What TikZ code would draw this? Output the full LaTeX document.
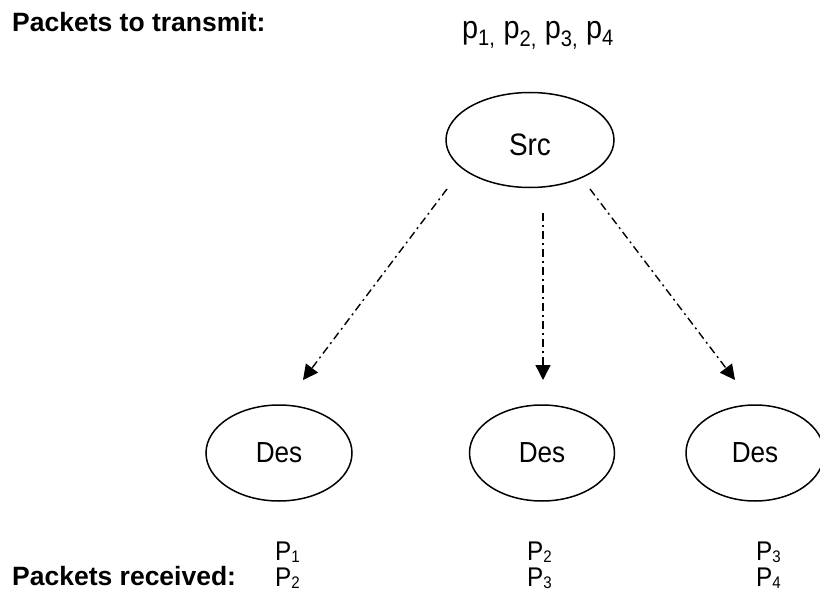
\documentclass[tikz,border=0pt]{standalone}
\usepackage{fontspec}
\setmainfont{Liberation Sans}
\newfontfamily\nsans{Liberation Sans}[FakeStretch=0.9]
\usetikzlibrary{shapes.geometric,arrows.meta}
\newcommand{\subx}[1]{\raisebox{-0.08em}{\scalebox{0.62}{#1}}}
\begin{document}
\begin{tikzpicture}[x=1pt,y=-1pt,
  oval/.style={draw, ellipse, line width=1.5pt, inner sep=0pt, font=\nsans\fontsize{29}{34}\selectfont},
  flow/.style={line width=1.4pt, dash pattern=on 8pt off 4pt on 2pt off 4pt, -{Triangle[length=15pt,width=15pt]}},
  lbl/.style={inner sep=0pt, anchor=base west, font=\nsans\fontsize{27}{32}\selectfont},
  lblb/.style={inner sep=0pt, anchor=base west, font=\bfseries\fontsize{26.5}{31}\selectfont}]
\useasboundingbox (0,0) rectangle (820,594);
\node[oval, minimum width=168pt, minimum height=95pt, font=\nsans\fontsize{31}{36}\selectfont, text height=30pt, text depth=0pt] (src) at (530,140) {Src};
\node[oval, minimum width=146pt, minimum height=96pt] (d1) at (279,453) {Des};
\node[oval, minimum width=145pt, minimum height=96pt] (d2) at (542,453) {Des};
\node[oval, minimum width=138pt, minimum height=96pt] (d3) at (755,453) {Des};
\coordinate (s1) at (447,189); \coordinate (e1) at (303,380);
\coordinate (s2) at (543,213); \coordinate (e2) at (543,380);
\coordinate (s3) at (590,189); \coordinate (e3) at (735,380);
\draw[flow] (s1) -- (e1);
\draw[flow] (s2) -- (e2);
\draw[flow] (s3) -- (e3);
\node[lblb] (tx) at (12,32) {Packets to transmit:};
\node[lbl, font=\nsans\fontsize{32}{36}\selectfont] (pk) at (462,39) {p\textsubscript{1,} p\textsubscript{2,} p\textsubscript{3,} p\textsubscript{4}};
\node[lblb] (rx) at (12,585) {Packets received:};
\node[lbl] (r1a) at (275,560) {P\subx{1}};
\node[lbl] (r1b) at (275,586) {P\subx{2}};
\node[lbl] (r2a) at (527,560) {P\subx{2}};
\node[lbl] (r2b) at (527,586) {P\subx{3}};
\node[lbl] (r3a) at (756,560) {P\subx{3}};
\node[lbl] (r3b) at (756,586) {P\subx{4}};
\end{tikzpicture}
\end{document}
